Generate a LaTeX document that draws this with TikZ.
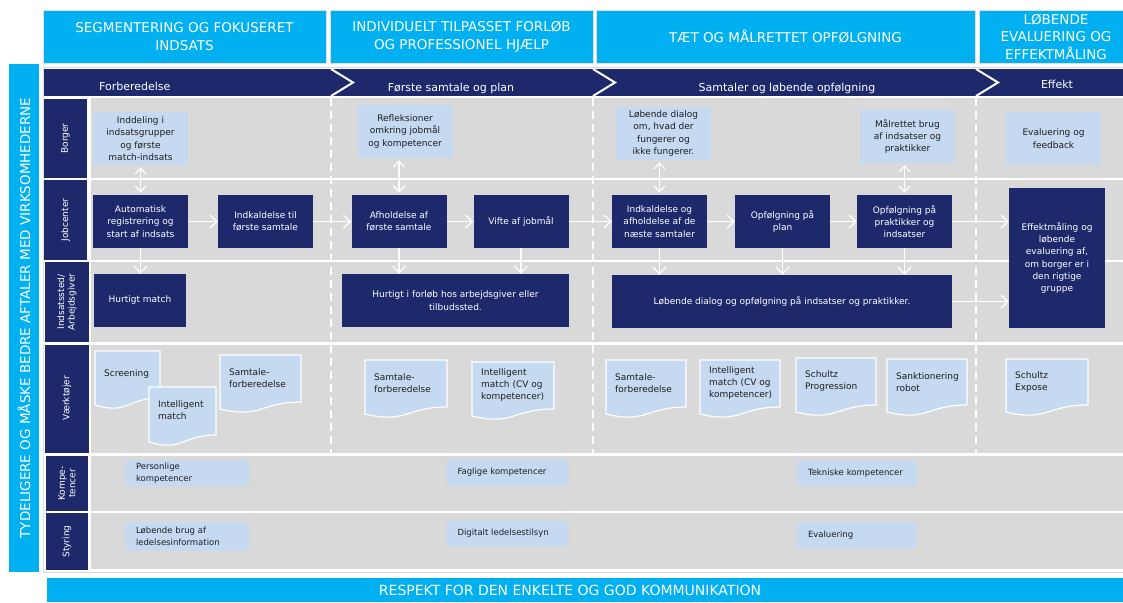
\documentclass[tikz,border=0pt]{standalone}
\usepackage{xcolor}
\usepackage{fontspec}
\setmainfont{DejaVu Sans}
\usepackage{tikz}
\usetikzlibrary{arrows.meta}
\definecolor{cy}{RGB}{0,176,240}
\definecolor{nv}{RGB}{29,41,107}
\definecolor{lb}{RGB}{197,217,241}
\definecolor{gr}{RGB}{217,217,217}
\definecolor{tx}{RGB}{30,30,30}

\begin{document}
\begin{tikzpicture}[x=1pt,y=-1pt]
	\tikzstyle{hd} = [fill=cy,draw=gray!25,text=white,align=center,inner sep=0pt,minimum height=53pt,font=\fontsize{13.5}{17.5}\selectfont];
	\tikzstyle{ph} = [anchor=base,text=white,inner sep=0pt,font=\fontsize{11}{13}\selectfont];
	\tikzstyle{ln} = [fill=nv,text=white,rotate=90,align=center,inner sep=0pt,minimum height=43pt,font=\fontsize{9}{10.5}\selectfont];
	\tikzstyle{jb} = [fill=nv,text=white,align=center,inner sep=0pt,minimum width=95pt,minimum height=53pt,font=\fontsize{9}{12.3}\selectfont];
	\tikzstyle{bx} = [fill=lb,text=tx,align=center,inner sep=0pt,minimum width=95pt,minimum height=53pt,font=\fontsize{9}{12.3}\selectfont];
	\tikzstyle{kb} = [fill=lb,text=tx,rounded corners=4pt,align=left,inner xsep=11pt,inner ysep=0pt,minimum height=26pt,font=\fontsize{8.5}{12.5}\selectfont];
	\tikzstyle{dc} = [fill=lb,draw=white,line width=1.2pt];
	\tikzstyle{dt} = [anchor=west,text=tx,align=left,inner sep=0pt,font=\fontsize{9}{12}\selectfont];
	\tikzstyle{ar} = [draw=white,line width=1.2pt,-{Straight Barb[length=7pt,width=13pt]}];
	\tikzstyle{da} = [draw=white,line width=1.2pt,shorten <=2pt,shorten >=2pt,{Straight Barb[length=6pt,width=11pt]}-{Straight Barb[length=6pt,width=11pt]}];
	\tikzstyle{sp} = [draw=white,line width=2pt,dash pattern=on 8pt off 5pt];
	\useasboundingbox (0,0) rectangle (1123,602);
	\path [fill=white] (0,0) rectangle (1123,602);
	\node (h1) at (184.5,36.5) [hd,minimum width=283pt] {SEGMENTERING OG FOKUSERET\\INDSATS};
	\node (h2) at (461.5,36.5) [hd,minimum width=263pt] {INDIVIDUELT TILPASSET FORLØB\\OG PROFESSIONEL HJÆLP};
	\node (h3) at (785.5,36.5) [hd,minimum width=379pt] {TÆT OG MÅLRETTET OPFØLGNING};
	\node (h4) at (1056,36.5) [hd,minimum width=154pt] {LØBENDE\\EVALUERING OG\\EFFEKTMÅLING};
	\node (tyd) at (24,318) [fill=cy,text=white,rotate=90,inner sep=0pt,minimum width=508pt,minimum height=30pt,font=\fontsize{13.5}{16}\selectfont] {TYDELIGERE OG MÅSKE BEDRE AFTALER MED VIRKSOMHEDERNE};
	\draw [gray!30] (43,67) rectangle (1130,572);
	\path [fill=nv] (44,69) rectangle (1130,96);
	\path [fill=gr] (91,98) rectangle (1130,569);
	\node (l1) at (65.5,138.5) [ln,minimum width=80pt] {Borger};
	\node (l2) at (65.5,220) [ln,minimum width=80pt] {Jobcenter};
	\node (l3) at (67,302) [ln,minimum width=80pt,minimum height=44pt] {Indsatssted/\\Arbejdsgiver};
	\node (l4) at (67,398.5) [ln,minimum width=108pt,minimum height=44pt] {Værktøjer};
	\node (l5) at (67,483.5) [ln,minimum width=55pt,minimum height=42pt] {Kompe-\\tencer};
	\node (l6) at (67,541.5) [ln,minimum width=57pt,minimum height=42pt] {Styring};
	\draw [white,line width=2pt] (43,179) -- (1130,179);
	\draw [white,line width=2pt] (43,261) -- (1130,261);
	\draw [white,line width=2.5pt] (43,343.5) -- (1130,343.5);
	\draw [white,line width=3pt] (43,454.5) -- (1130,454.5);
	\draw [white,line width=2pt] (43,512) -- (1130,512);
	\draw [white,line width=2pt] (331,69) -- (353,82.5) -- (331,96);
	\draw [white,line width=2pt] (593,69) -- (615,82.5) -- (593,96);
	\draw [white,line width=2pt] (976,69) -- (998,82.5) -- (976,96);
	\draw [sp] (331,98) -- (331,453);
	\draw [sp] (593,98) -- (593,453);
	\draw [sp] (976,98) -- (976,453);
	\node (p1) at (99,90) [ph,anchor=base west] {Forberedelse};
	\node (p2) at (451,91) [ph] {Første samtale og plan};
	\node (p3) at (787,91) [ph] {Samtaler og løbende opfølgning};
	\node (p4) at (1057,88) [ph] {Effekt};
	\node (bo1) at (140.5,138.5) [bx] {Inddeling i\\indsatsgrupper\\og første\\match-indsats};
	\node (bo2) at (405,131.5) [bx] {Refleksioner\\omkring jobmål\\og kompetencer};
	\node (bo3) at (663.5,133.5) [bx] {Løbende dialog\\om, hvad der\\fungerer og\\ikke fungerer.};
	\node (bo4) at (907.5,136.5) [bx] {Målrettet brug\\af indsatser og\\praktikker};
	\node (bo5) at (1053.5,138.5) [bx] {Evaluering og\\feedback};
	\node (jc1) at (140.5,221.5) [jb] {Automatisk\\registrering og\\start af indsats};
	\node (jc2) at (265.5,221.5) [jb] {Indkaldelse til\\første samtale};
	\node (jc3) at (399,221.5) [jb] {Afholdelse af\\første samtale};
	\node (jc4) at (521,221.5) [jb] {Vifte af jobmål};
	\node (jc5) at (659.5,221.5) [jb] {Indkaldelse og\\afholdelse af de\\næste samtaler};
	\node (jc6) at (782.5,221.5) [jb] {Opfølgning på\\plan};
	\node (jc7) at (904.5,221.5) [jb] {Opfølgning på\\praktikker og\\indsatser};
	\node (ef) at (1057,258) [jb,minimum width=96pt,minimum height=140pt] {Effektmåling og\\løbende\\evaluering af,\\om borger er i\\den rigtige\\gruppe};
	\node (in1) at (140,300.5) [jb,minimum width=92pt] {Hurtigt match};
	\node (in2) at (455.5,300.5) [jb,minimum width=227pt] {Hurtigt i forløb hos arbejdsgiver eller\\tilbudssted.};
	\node (in3) at (782,301.5) [jb,minimum width=340pt] {Løbende dialog og opfølgning på indsatser og praktikker.};
	\draw [da] (jc1.north) -- (jc1.north |- bo1.south);
	\draw [da] (jc3.north) -- (jc3.north |- bo2.south);
	\draw [da] (jc5.north) -- (jc5.north |- bo3.south);
	\draw [da] (jc7.north) -- (jc7.north |- bo4.south);
	\draw [ar] (jc1) -- (jc2);
	\draw [ar] (jc2) -- (jc3);
	\draw [ar] (jc3) -- (jc4);
	\draw [ar] (jc4) -- (jc5);
	\draw [ar] (jc5) -- (jc6);
	\draw [ar] (jc6) -- (jc7);
	\draw [ar] (jc7.east) -- (jc7.east -| ef.west);
	\draw [ar] (in3.east) -- (in3.east -| ef.west);
	\draw [ar] (jc1.south) -- (jc1.south |- in1.north);
	\draw [ar] (jc3.south) -- (jc3.south |- in2.north);
	\draw [ar] (jc4.south) -- (jc4.south |- in2.north);
	\draw [ar] (jc5.south) -- (jc5.south |- in3.north);
	\draw [ar] (jc6.south) -- (jc6.south |- in3.north);
	\draw [ar] (jc7.south) -- (jc7.south |- in3.north);
	\path [dc] (95,351) -- (160,351) -- (160,398) .. controls (127.5,398) and (127.5,415) .. (95,405) -- cycle;
	\node (vt1) at (104,374) [dt] {Screening};
	\path [dc] (149,387) -- (216,387) -- (216,435) .. controls (182.5,435) and (182.5,452) .. (149,442) -- cycle;
	\node (vt2) at (158,410) [dt] {Intelligent\\match};
	\path [dc] (220,355) -- (301,355) -- (301,402) .. controls (260.5,402) and (260.5,419) .. (220,409) -- cycle;
	\node (vt3) at (229,378) [dt] {Samtale-\\forberedelse};
	\path [dc] (365,360) -- (447,360) -- (447,407) .. controls (406,407) and (406,424) .. (365,414) -- cycle;
	\node (vt4) at (374,383) [dt] {Samtale-\\forberedelse};
	\path [dc] (472,362) -- (554,362) -- (554,409) .. controls (513,409) and (513,426) .. (472,416) -- cycle;
	\node (vt5) at (481,385) [dt] {Intelligent\\match (CV og\\kompetencer)};
	\path [dc] (606,360) -- (686,360) -- (686,407) .. controls (646,407) and (646,424) .. (606,414) -- cycle;
	\node (vt6) at (615,383) [dt] {Samtale-\\forberedelse};
	\path [dc] (700,360) -- (780,360) -- (780,407) .. controls (740,407) and (740,424) .. (700,414) -- cycle;
	\node (vt7) at (709,383) [dt] {Intelligent\\match (CV og\\kompetencer)};
	\path [dc] (796,358) -- (876,358) -- (876,405) .. controls (836,405) and (836,422) .. (796,412) -- cycle;
	\node (vt8) at (805,381) [dt] {Schultz\\Progression};
	\path [dc] (887,359) -- (967,359) -- (967,405) .. controls (927,405) and (927,422) .. (887,412) -- cycle;
	\node (vt9) at (896,382) [dt] {Sanktionering\\robot};
	\path [dc] (1006,359) -- (1088,359) -- (1088,405) .. controls (1047,405) and (1047,422) .. (1006,412) -- cycle;
	\node (vt10) at (1015,382) [dt] {Schultz\\Expose};
	\node (ko1) at (187,473) [kb,text width=102pt] {Personlige\\kompetencer};
	\node (ko2) at (507.5,472.5) [kb,text width=100pt] {Faglige kompetencer};
	\node (ko3) at (857,473) [kb,text width=98pt] {Tekniske kompetencer};
	\node (st1) at (187,536.5) [kb,text width=102pt,minimum height=28pt] {Løbende brug af\\ledelsesinformation};
	\node (st2) at (507.5,533.5) [kb,text width=100pt] {Digitalt ledelsestilsyn};
	\node (st3) at (857,535.5) [kb,text width=98pt] {Evaluering};
	\path [fill=cy] (47,578) rectangle (1130,602);
	\node (resp) at (570,590) [text=white,inner sep=0pt,font=\fontsize{14}{16}\selectfont] {RESPEKT FOR DEN ENKELTE OG GOD KOMMUNIKATION};
\end{tikzpicture}
\end{document}
